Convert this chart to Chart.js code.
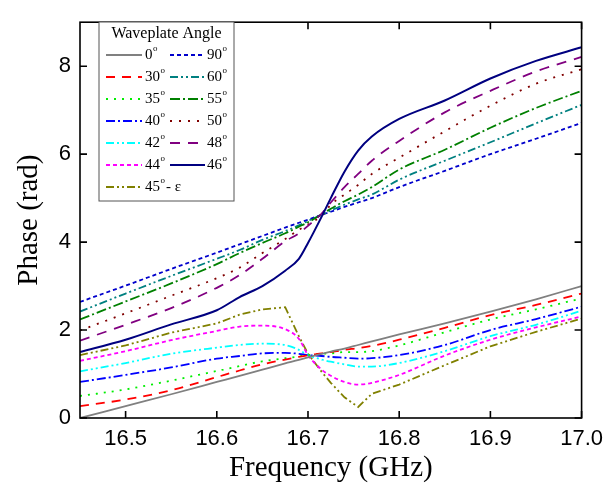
<!DOCTYPE html>
<html>
<head>
<meta charset="utf-8">
<script src="https://cdn.jsdelivr.net/npm/chart.js@4.4.0/dist/chart.umd.min.js"></script>
<style>
html, body { margin: 0; padding: 0; background: #fff; }
</style>
</head>
<body>
<canvas id="phaseChart" width="611" height="490"></canvas>
<script>
// frequency grid (GHz)
var freq = [16.45, 16.5, 16.55, 16.6, 16.625, 16.65, 16.675, 16.69, 16.7, 16.715, 16.725, 16.74, 16.755, 16.77, 16.8, 16.85, 16.9, 16.95, 17.0];

// phase (rad) for each waveplate angle
var phase0  = [0.00, 0.27, 0.54, 0.82, 0.96, 1.10, 1.24, 1.32, 1.38, 1.46, 1.51, 1.58, 1.66, 1.74, 1.90, 2.15, 2.42, 2.70, 3.00];
var phase30 = [0.27, 0.42, 0.63, 0.93, 1.08, 1.22, 1.33, 1.39, 1.43, 1.47, 1.50, 1.55, 1.59, 1.64, 1.78, 2.05, 2.34, 2.57, 2.83];
var phase35 = [0.50, 0.65, 0.85, 1.07, 1.18, 1.29, 1.36, 1.40, 1.43, 1.46, 1.47, 1.50, 1.50, 1.52, 1.65, 1.95, 2.24, 2.47, 2.72];
var phase40 = [0.82, 0.98, 1.15, 1.35, 1.41, 1.47, 1.48, 1.46, 1.43, 1.41, 1.39, 1.37, 1.35, 1.36, 1.43, 1.66, 2.00, 2.25, 2.53];
var phase42 = [1.06, 1.25, 1.46, 1.60, 1.66, 1.69, 1.66, 1.55, 1.43, 1.33, 1.28, 1.22, 1.17, 1.17, 1.25, 1.52, 1.86, 2.12, 2.44];
var phase44 = [1.30, 1.52, 1.77, 1.98, 2.08, 2.10, 2.02, 1.80, 1.43, 1.10, 0.96, 0.82, 0.76, 0.80, 0.98, 1.42, 1.78, 2.06, 2.31];
var phase45e = [1.43, 1.65, 1.94, 2.15, 2.35, 2.47, 2.52, 1.86, 1.46, 1.05, 0.80, 0.47, 0.25, 0.55, 0.76, 1.20, 1.63, 1.96, 2.26];
var phase46 = [1.50, 1.78, 2.13, 2.45, 2.75, 3.00, 3.35, 3.62, 3.98, 4.58, 5.00, 5.60, 6.08, 6.40, 6.80, 7.22, 7.72, 8.12, 8.43];
var phase48 = [1.76, 2.12, 2.50, 2.96, 3.25, 3.62, 4.02, 4.20, 4.37, 4.65, 4.90, 5.25, 5.55, 5.85, 6.30, 6.95, 7.44, 7.88, 8.21];
var phase50 = [1.99, 2.38, 2.78, 3.18, 3.42, 3.75, 4.07, 4.28, 4.40, 4.60, 4.85, 5.08, 5.30, 5.55, 5.92, 6.52, 7.10, 7.60, 7.93];
var phase55 = [2.24, 2.65, 3.06, 3.50, 3.75, 3.98, 4.20, 4.35, 4.45, 4.63, 4.76, 4.93, 5.08, 5.25, 5.65, 6.10, 6.60, 7.05, 7.44];
var phase60 = [2.42, 2.83, 3.23, 3.62, 3.82, 4.05, 4.25, 4.38, 4.48, 4.62, 4.72, 4.85, 4.97, 5.08, 5.42, 5.85, 6.27, 6.70, 7.12];
var phase90 = [2.64, 3.01, 3.39, 3.76, 3.95, 4.14, 4.33, 4.44, 4.51, 4.62, 4.69, 4.80, 4.90, 5.00, 5.25, 5.62, 6.00, 6.35, 6.71];

var xTicks = [16.5, 16.6, 16.7, 16.8, 16.9, 17.0];
var yTicks = [0, 2, 4, 6, 8];

// legend columns, top to bottom
var leftCol  = ['0', '30', '35', '40', '42', '44', '45e'];
var rightCol = ['90', '60', '55', '50', '48', '46'];

var series = {
    '0':   { values: phase0,  color: '#808080', dash: [],                 tension: 0.3 },
    '30':  { values: phase30, color: '#ff0000', dash: [9, 7],             tension: 0.3 },
    '35':  { values: phase35, color: '#00ee00', dash: [2, 6],             tension: 0.3 },
    '40':  { values: phase40, color: '#0000ff', dash: [9, 3, 2, 3],       tension: 0.3 },
    '42':  { values: phase42, color: '#00ffff', dash: [8, 3, 2, 3, 2, 3], tension: 0.3 },
    '44':  { values: phase44, color: '#ff00ff', dash: [4, 3],             tension: 0.3 },
    '45e': { values: phase45e, color: '#808000', dash: [8, 3, 2, 3, 2, 3], tension: 0 },
    '46':  { values: phase46, color: '#000080', dash: [],                 tension: 0.3 },
    '48':  { values: phase48, color: '#800080', dash: [10, 8],            tension: 0.3 },
    '50':  { values: phase50, color: '#800000', dash: [2, 7],             tension: 0.3 },
    '55':  { values: phase55, color: '#008000', dash: [10, 3, 2, 3],      tension: 0.3 },
    '60':  { values: phase60, color: '#008080', dash: [8, 3, 2, 3, 2, 3], tension: 0.3 },
    '90':  { values: phase90, color: '#0000cc', dash: [4, 3],             tension: 0.3 }
};

var datasets = Object.keys(series).map(function (k) {
    var s = series[k];
    return {
        label: k,
        data: freq.map(function (f, i) { return { x: f, y: s.values[i] }; }),
        borderColor: s.color,
        borderDash: s.dash,
        borderWidth: k === '46' ? 2 : 1.8,
        pointRadius: 0,
        fill: false,
        tension: s.tension,
        cubicInterpolationMode: s.tension ? 'monotone' : 'default'
    };
});

function drawDeg(ctx, x, y, num, tail) {
    ctx.font = '15px "Liberation Serif"';
    ctx.textBaseline = 'middle';
    ctx.fillText(num, x, y);
    var w = ctx.measureText(num).width;
    ctx.font = '9px "Liberation Serif"';
    ctx.fillText('o', x + w + 0.5, y - 6);
    if (tail) {
        ctx.font = '15px "Liberation Serif"';
        ctx.fillText(tail, x + w + 6, y);
    }
}

var framePlugin = {
    id: 'frame',
    afterDraw: function (chart) {
        var ctx = chart.ctx, a = chart.chartArea;
        var xs = chart.scales.x, ys = chart.scales.y;
        ctx.save();
        ctx.strokeStyle = '#000';
        ctx.lineWidth = 1.6;
        ctx.setLineDash([]);
        ctx.strokeRect(a.left, a.top, a.right - a.left, a.bottom - a.top);
        ctx.beginPath();
        xTicks.forEach(function (v) {
            var px = xs.getPixelForValue(v);
            ctx.moveTo(px, a.bottom); ctx.lineTo(px, a.bottom - 7);
            ctx.moveTo(px, a.top); ctx.lineTo(px, a.top + 7);
        });
        yTicks.forEach(function (v) {
            var py = ys.getPixelForValue(v);
            ctx.moveTo(a.left, py); ctx.lineTo(a.left + 7, py);
            ctx.moveTo(a.right, py); ctx.lineTo(a.right - 7, py);
        });
        ctx.stroke();

        // legend box
        var bx = 99, by = 22, bw = 135, bh = 179;
        ctx.fillStyle = '#fff';
        ctx.fillRect(bx, by, bw, bh);
        ctx.strokeStyle = '#555';
        ctx.lineWidth = 1;
        ctx.strokeRect(bx, by, bw, bh);
        ctx.fillStyle = '#000';
        ctx.font = '16px "Liberation Serif"';
        ctx.textAlign = 'center';
        ctx.textBaseline = 'middle';
        ctx.fillText('Waveplate Angle', bx + bw / 2, 34);
        ctx.textAlign = 'left';
        var cols = [[leftCol, 106, 142, 145], [rightCol, 170, 205, 207]];
        cols.forEach(function (c) {
            c[0].forEach(function (k, i) {
                var y = 55 + i * 22;
                var s = series[k];
                ctx.strokeStyle = s.color;
                ctx.lineWidth = 1.8;
                ctx.setLineDash(s.dash);
                ctx.beginPath();
                ctx.moveTo(c[1], y); ctx.lineTo(c[2], y);
                ctx.stroke();
                ctx.setLineDash([]);
                ctx.fillStyle = '#000';
                if (k === '45e') drawDeg(ctx, c[3], y, '45', '- \u03b5');
                else drawDeg(ctx, c[3], y, k, '');
            });
        });
        ctx.restore();
    }
};

new Chart(document.getElementById('phaseChart').getContext('2d'), {
    type: 'line',
    data: { datasets: datasets },
    options: {
        responsive: false,
        animation: false,
        layout: { padding: { top: 9, right: 27, left: 0, bottom: 0 } },
        plugins: { legend: { display: false }, tooltip: { enabled: false } },
        scales: {
            x: {
                type: 'linear',
                min: 16.45,
                max: 17.0,
                afterBuildTicks: function (s) { s.ticks = xTicks.map(function (v) { return { value: v }; }); },
                afterFit: function (s) { s.height = 72; },
                grid: { display: false, drawTicks: false },
                border: { display: false },
                ticks: {
                    padding: 8,
                    color: '#000',
                    font: { family: 'Liberation Sans', size: 22 },
                    callback: function (v) { return v.toFixed(1); }
                },
                title: {
                    display: true,
                    text: 'Frequency (GHz)',
                    color: '#000',
                    font: { family: 'Liberation Serif', size: 29 },
                    padding: { top: 0, bottom: 4 }
                }
            },
            y: {
                min: 0,
                max: 9,
                afterBuildTicks: function (s) { s.ticks = yTicks.map(function (v) { return { value: v }; }); },
                afterFit: function (s) { s.width = 80; },
                grid: { display: false, drawTicks: false },
                border: { display: false },
                ticks: {
                    padding: 9,
                    color: '#000',
                    font: { family: 'Liberation Sans', size: 22 },
                    callback: function (v) { return v; }
                },
                title: {
                    display: true,
                    text: 'Phase (rad)',
                    color: '#000',
                    font: { family: 'Liberation Serif', size: 29 },
                    padding: { top: 12, bottom: 0 }
                }
            }
        }
    },
    plugins: [framePlugin]
});
</script>
</body>
</html>
